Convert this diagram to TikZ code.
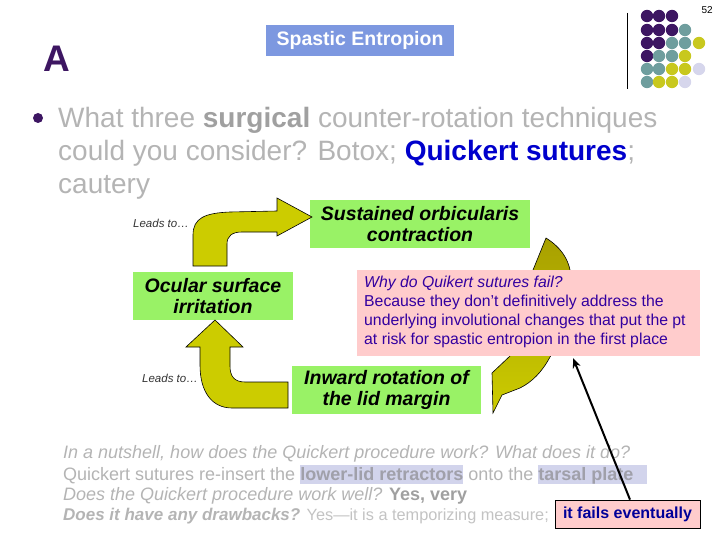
\documentclass[tikz,border=0pt]{standalone}
\usepackage{fontspec}
\setmainfont{Liberation Sans}
\usetikzlibrary{arrows.meta}
\definecolor{dpurple}{RGB}{61,22,98}
\definecolor{dteal}{RGB}{111,158,158}
\definecolor{dyellow}{RGB}{200,200,30}
\definecolor{dlav}{RGB}{214,214,236}
\definecolor{titlebg}{RGB}{125,152,224}
\definecolor{boxgreen}{RGB}{153,242,102}
\definecolor{olivey}{RGB}{204,204,0}
\definecolor{olivedk}{RGB}{168,160,0}
\definecolor{pinkbg}{RGB}{255,204,204}
\definecolor{gtxt}{RGB}{180,180,180}
\definecolor{gbold}{RGB}{160,160,160}
\definecolor{qblue}{RGB}{0,0,204}
\definecolor{ptxt}{RGB}{51,0,160}
\definecolor{hlbg}{RGB}{210,212,236}
\definecolor{hltxt}{RGB}{160,160,170}
\definecolor{fblue}{RGB}{0,0,153}
\newcommand{\hlbox}[2][0pt]{{\setlength{\fboxsep}{0pt}\colorbox{hlbg}{\rule[-4pt]{0pt}{19pt}#2\hspace{#1}}}}
\begin{document}
\begin{tikzpicture}[x=1pt,y=-1pt,
  txt/.style={inner sep=0pt, anchor=base west},
  greenbox/.style={fill=boxgreen, draw=none, align=center, inner sep=0pt,
    font=\fontsize{19.5}{21}\selectfont\bfseries\itshape},
  olivearrow/.style={fill=olivey, draw=black, line width=0.6pt, line join=miter},
  leads/.style={txt, font=\fontsize{11.5}{13}\selectfont\itshape, text=black!80}]
\useasboundingbox (0,0) rectangle (720,540);

% page number and logo
\node[inner sep=0pt, anchor=base east, font=\fontsize{10}{12}\selectfont] (pnum) at (713,14) {52};
\draw[line width=1pt] (627,13) -- (627,89);
\foreach \x/\y/\c in {647/16/dpurple,659/16/dpurple,672/16/dpurple,
  647/30/dpurple,659/30/dpurple,672/30/dpurple,685/30/dteal,
  647/43/dpurple,659/43/dpurple,672/43/dteal,685/43/dteal,699/43/dyellow,
  647/56/dpurple,659/56/dteal,672/56/dteal,685/56/dyellow,
  647/69/dteal,659/69/dteal,672/69/dyellow,685/69/dyellow,699/69/dlav,
  647/82/dteal,659/82/dyellow,672/82/dyellow,685/82/dlav}
  \fill[\c] (\x,\y) circle[radius=6.2pt];

% A and title
\node[txt, font=\fontsize{37}{40}\selectfont\bfseries, text=dpurple] (bigA) at (43,72) {A};
\node[fill=titlebg, minimum width=188pt, minimum height=31pt, inner sep=0pt,
  text=white, font=\fontsize{19.5}{21}\selectfont\bfseries] (title) at (360,40.5) {Spastic Entropion};

% bullet
\fill[dpurple] (38,118) circle[radius=5pt];
\node[txt, font=\fontsize{28}{33}\selectfont, text=gtxt] (bl1) at (58,128)
  {What three \textbf{\color{gbold}surgical} counter-rotation techniques};
\node[txt, font=\fontsize{28}{33}\selectfont, text=gtxt] (bl2) at (58,161)
  {could you consider? Botox; \textbf{\color{qblue}Quickert sutures};};
\node[txt, font=\fontsize{28}{33}\selectfont, text=gtxt] (bl3) at (58,194) {cautery};

% right curved arrow (behind pink box)
\path[draw=black, line width=0.6pt, top color=olivedk, bottom color=olivey]
  (546,238) .. controls (562,248) and (571,262) .. (571,280)
  .. controls (571,310) and (562,338) .. (550,357)
  .. controls (542,372) and (532,382) .. (520,388)
  -- (502,395) -- (493,413) -- (492,373) -- (510,356)
  .. controls (525,335) and (532,300) .. (533,270) -- cycle;

% green boxes
\node[greenbox, minimum width=220pt, minimum height=48pt] (sust) at (420,224)
  {Sustained orbicularis\\contraction};
\node[greenbox, minimum width=160pt, minimum height=48pt] (ocular) at (213,296)
  {Ocular surface\\irritation};
\node[greenbox, minimum width=189pt, minimum height=48pt] (inward) at (386.5,390)
  {Inward rotation of\\the lid margin};

% left arrows
\path[olivearrow] (193,266) -- (193,235) .. controls (193,218) and (205,213) .. (230,212)
  -- (277,211) -- (277,198) -- (312,217) -- (277,236) -- (277,232) -- (242,232)
  .. controls (232,232) and (227,236) .. (227,244) -- (227,266) -- cycle;
\path[olivearrow] (215,320) -- (243,347) -- (230,347) -- (230,366)
  .. controls (230,376) and (234,382) .. (245,382) -- (288,382) -- (288,408) -- (232,408)
  .. controls (212,408) and (200,392) .. (200,365) -- (200,347) -- (186,347) -- cycle;

\node[leads] (lead1) at (133,228) {Leads to…};
\node[leads] (lead2) at (142,382) {Leads to…};

% pink explanation box
\node[fill=pinkbg, minimum width=343pt, minimum height=86pt, inner sep=0pt] (pink) at (528.5,313) {};
\node[inner sep=0pt, anchor=north west, align=left, text=ptxt,
  font=\fontsize{15.8}{19}\selectfont] (pinktxt) at (364,276)
  {\itshape Why do Quikert sutures fail?\\
   Because they don’t definitively address the\\
   underlying involutional changes that put the pt\\
   at risk for spastic entropion in the first place};

% bottom text
\node[txt, font=\fontsize{18}{21}\selectfont\itshape, text=gtxt] (b1) at (63,458)
  {In a nutshell, how does the Quickert procedure work? What does it do?};
\node[txt, font=\fontsize{18}{21}\selectfont, text=gtxt] (b2) at (63,480)
  {Quickert sutures re-insert the \hlbox{\textbf{\color{hltxt}lower-lid retractors}} onto the \hlbox[14pt]{\textbf{\color{hltxt}tarsal plate}}};
\node[txt, font=\fontsize{18}{21}\selectfont, text=gtxt] (b3) at (63,500)
  {\itshape Does the Quickert procedure work well? \upshape\bfseries\color{gbold}Yes, very};
\node[txt, font=\fontsize{17}{21}\selectfont, text=gtxt] (b4) at (63,520)
  {\textbf{\itshape Does it have any drawbacks?} {\fontsize{16.3}{21}\selectfont\color{gtxt!80}Yes—it is a temporizing measure;}};

% it fails eventually
\node[fill=pinkbg, draw=black, line width=0.8pt, minimum width=145pt, minimum height=28pt,
  inner sep=0pt, text=fblue, font=\fontsize{16}{18}\selectfont\bfseries] (fails) at (627.5,514)
  {it fails eventually};
\coordinate (qend) at (573,358);
\draw[line width=2pt, -{Stealth[length=10pt,width=8pt]}] ([xshift=2.5pt]fails.north) -- (qend);
\end{tikzpicture}
\end{document}
